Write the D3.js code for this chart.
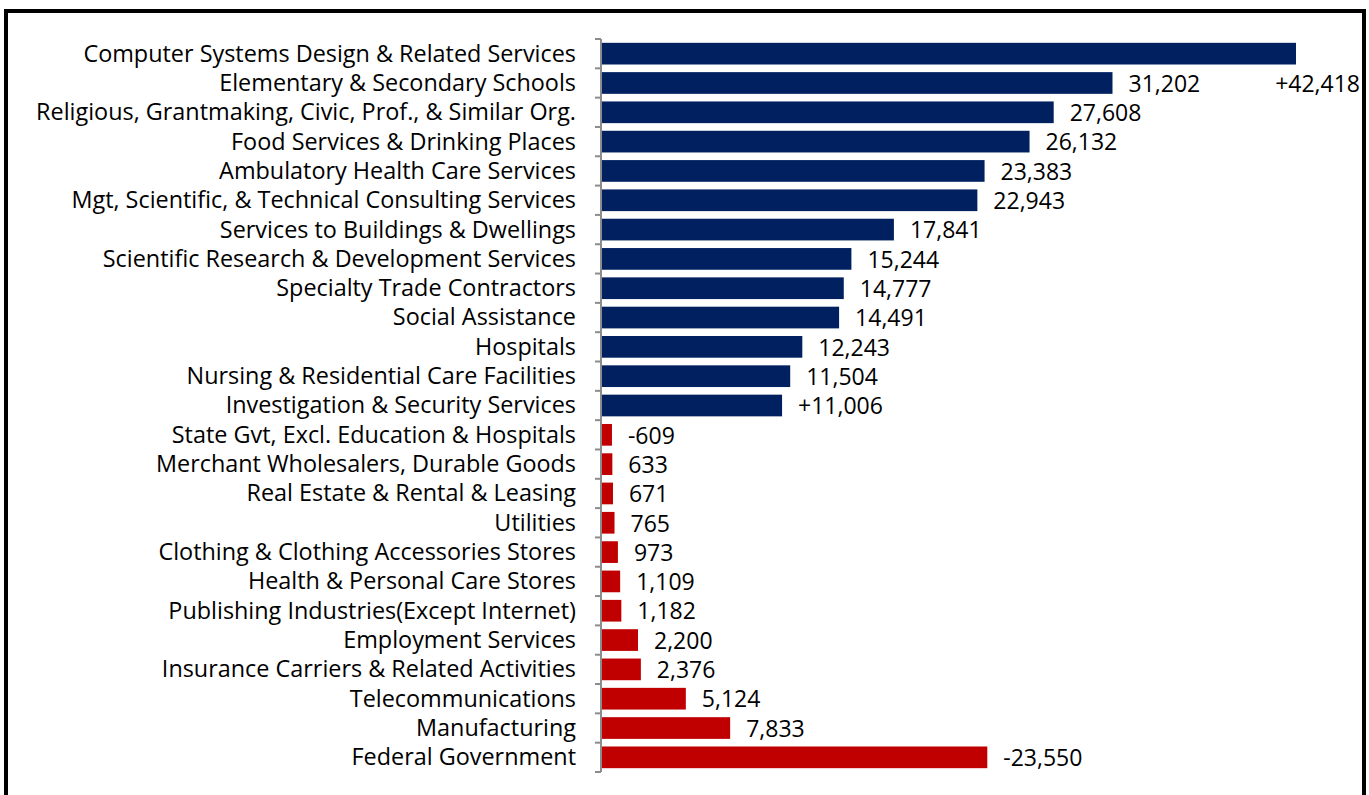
<!DOCTYPE html>
<html>
<head>
<meta charset="utf-8">
<script src="https://cdn.jsdelivr.net/npm/d3@7"></script>
<style>
  html, body { margin: 0; padding: 0; background: #fff; }
  svg { display: block; }
  text { font-family: "Open Sans", Lato, sans-serif; fill: #000; }
</style>
</head>
<body>
<svg id="chart" width="1369" height="795"></svg>
<script>
// Industries, ordered top to bottom
const industries = [
  "Computer Systems Design & Related Services",
  "Elementary & Secondary Schools",
  "Religious, Grantmaking, Civic, Prof., & Similar Org.",
  "Food Services & Drinking Places",
  "Ambulatory Health Care Services",
  "Mgt, Scientific, & Technical Consulting Services",
  "Services to Buildings & Dwellings",
  "Scientific Research & Development Services",
  "Specialty Trade Contractors",
  "Social Assistance",
  "Hospitals",
  "Nursing & Residential Care Facilities",
  "Investigation & Security Services",
  "State Gvt, Excl. Education & Hospitals",
  "Merchant Wholesalers, Durable Goods",
  "Real Estate & Rental & Leasing",
  "Utilities",
  "Clothing & Clothing Accessories Stores",
  "Health & Personal Care Stores",
  "Publishing Industries(Except Internet)",
  "Employment Services",
  "Insurance Carriers & Related Activities",
  "Telecommunications",
  "Manufacturing",
  "Federal Government"
];

// Employment change (gains positive, losses negative)
const changes = [
  42418, 31202, 27608, 26132, 23383, 22943, 17841, 15244, 14777, 14491,
  12243, 11504, 11006,
  -609, -633, -671, -765, -973, -1109, -1182, -2200, -2376, -5124, -7833, -23550
];

// Value labels as printed beside each bar
const valueLabels = [
  "+42,418", "31,202", "27,608", "26,132", "23,383", "22,943", "17,841", "15,244",
  "14,777", "14,491", "12,243", "11,504", "+11,006",
  "-609", "633", "671", "765", "973", "1,109", "1,182", "2,200", "2,376",
  "5,124", "7,833", "-23,550"
];

const gainColor = "#002060";
const lossColor = "#C00000";

const svg = d3.select("#chart");

// outer frame
svg.append("rect")
  .attr("x", 6).attr("y", 11)
  .attr("width", 1358).attr("height", 800)
  .attr("fill", "none").attr("stroke", "#000").attr("stroke-width", 4);

const x0 = 602;
const x = d3.scaleLinear().domain([0, 42418]).range([x0, 1296]);
const y = d3.scaleBand().domain(industries).range([39, 772]).paddingInner(0.26).paddingOuter(0.13);

const data = industries.map((name, i) => ({ name, value: changes[i], label: valueLabels[i] }));

// bars drawn by magnitude, coloured by sign
svg.append("g").selectAll("rect")
  .data(data).join("rect")
  .attr("x", x0)
  .attr("y", d => y(d.name))
  .attr("width", d => x(Math.abs(d.value)) - x0)
  .attr("height", y.bandwidth())
  .attr("fill", d => d.value >= 0 ? gainColor : lossColor);

// category axis with ticks between bands
const axisTop = 39, axisBottom = 772;
const axis = svg.append("g").attr("stroke", "#8c8c8c").attr("stroke-width", 2);
axis.append("line").attr("x1", 601).attr("x2", 601).attr("y1", axisTop).attr("y2", axisBottom);
axis.selectAll("line.tick")
  .data(d3.range(industries.length + 1)).join("line")
  .attr("class", "tick")
  .attr("x1", 595).attr("x2", 601)
  .attr("y1", i => axisTop + i * (axisBottom - axisTop) / industries.length)
  .attr("y2", i => axisTop + i * (axisBottom - axisTop) / industries.length);

// category labels
svg.append("g").selectAll("text")
  .data(data).join("text")
  .attr("x", 576)
  .attr("y", d => y(d.name) + y.bandwidth() / 2)
  .attr("dy", "0.34em")
  .attr("text-anchor", "end")
  .attr("font-size", 23.4)
  .text(d => d.name);

// value labels (the top bar's label sits at the right edge, one row down)
svg.append("g").selectAll("text")
  .data(data).join("text")
  .attr("x", (d, i) => i === 0 ? 1360 : x(Math.abs(d.value)) + 16)
  .attr("y", (d, i) => (i === 0 ? y(industries[1]) : y(d.name)) + y.bandwidth() / 2)
  .attr("dy", "0.38em")
  .attr("text-anchor", (d, i) => i === 0 ? "end" : "start")
  .attr("font-size", 23)
  .text(d => d.label);
</script>
</body>
</html>
